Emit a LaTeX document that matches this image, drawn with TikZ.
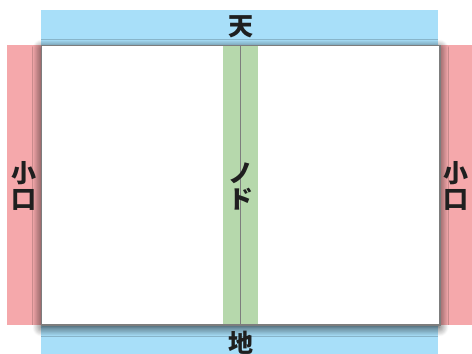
\documentclass[tikz,border=0pt]{standalone}
\usepackage{fontspec}
\newfontfamily\jp{Noto Sans CJK JP}
\usetikzlibrary{shadows.blur}
\definecolor{bandblue}{RGB}{168,223,249}
\definecolor{bandpink}{RGB}{245,168,171}
\definecolor{guttergreen}{RGB}{182,216,172}
\definecolor{edgegray}{RGB}{125,125,125}
\tikzset{
  lbl/.style={font=\jp\bfseries\fontsize{25}{26}\selectfont, text=black!88, inner sep=0pt, align=center},
  page/.style={fill=white, draw=edgegray, line width=1pt,
    blur shadow={shadow xshift=0pt, shadow yshift=-3pt, shadow blur radius=9pt, shadow blur steps=12, shadow opacity=80}},
}
\begin{document}
\begin{tikzpicture}[x=1pt,y=-1pt]
\useasboundingbox (0,0) rectangle (472,354);
\clip (0,0) rectangle (472,354);
% bands
\fill[bandblue] (41,10) rectangle (438,45);
\fill[bandblue] (41,324) rectangle (438,360);
\fill[bandpink] (7,45) rectangle (41,325);
\fill[bandpink] (439,45) rectangle (480,325);
% page
\node[page, minimum width=398pt, minimum height=279pt, inner sep=0pt, anchor=north west] (pg) at (41,45) {};
% gutter
\node[fill=guttergreen, draw=none, minimum width=35pt, minimum height=278pt, inner sep=0pt] (gut) at (240.5,184.5) {};
\coordinate (ctop) at (240.5,45.5);
\coordinate (cbot) at (240.5,323.5);
\draw[edgegray, line width=1pt] (ctop) -- (cbot);
\draw[edgegray, line width=1pt] (pg.north west) rectangle (pg.south east);
% labels
\node[lbl] (ten) at (240.5,26.5) {天};
\node[lbl] (chi) at (240.5,342.5) {地};
\node[lbl] (koL) at (24,186) {小\\口};
\node[lbl] (koR) at (456,186) {小\\口};
\node[lbl] (nodo) at (240.5,186) {ノ\\ド};
\end{tikzpicture}
\end{document}
